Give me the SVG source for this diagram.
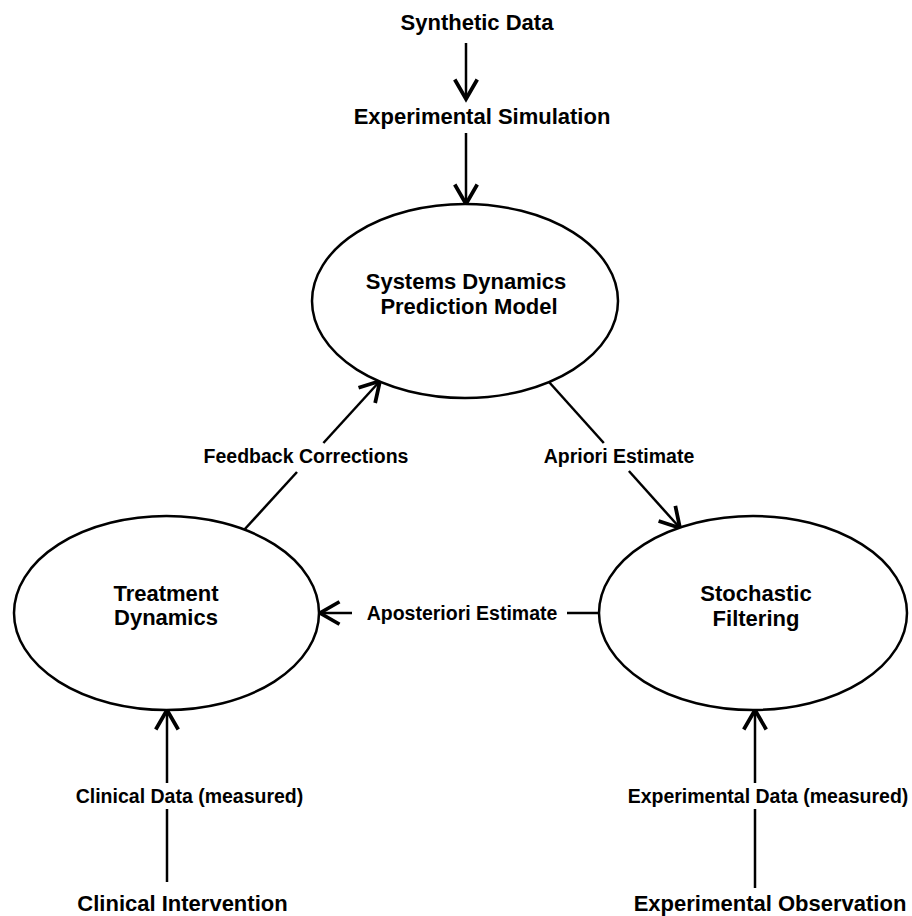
<svg xmlns="http://www.w3.org/2000/svg" width="912" height="916" viewBox="0 0 912 916">
<style>
.t{font-family:"Liberation Sans",Arial,sans-serif;font-weight:bold;fill:#000;text-anchor:middle}
.big{font-size:22px}
.lbl{font-size:19.5px}
.node{fill:#fff;stroke:#000;stroke-width:2.5}
.edge{stroke:#000;stroke-width:2.5;fill:none}
</style>
<defs>
<marker id="arr" markerUnits="userSpaceOnUse" markerWidth="30" markerHeight="30" refX="0" refY="0" viewBox="-16 -10 20 20" orient="auto" overflow="visible">
<path d="M-13,-7.5 L0,0 L-13,7.5" fill="none" stroke="#000" stroke-width="2.5"/>
</marker>
</defs>
<rect width="912" height="916" fill="#fff"/>
<g id="connectors">
<line class="edge" x1="466" y1="43" x2="466" y2="99" marker-end="url(#arr)"/>
<line class="edge" x1="466" y1="133" x2="466" y2="204" marker-end="url(#arr)"/>
<line class="edge" x1="244" y1="530" x2="297" y2="472"/>
<line class="edge" x1="323.4" y1="443" x2="380" y2="381" marker-end="url(#arr)"/>
<line class="edge" x1="549" y1="382" x2="603.8" y2="443"/>
<line class="edge" x1="628.9" y1="471" x2="680" y2="528" marker-end="url(#arr)"/>
<line class="edge" x1="600" y1="613" x2="567" y2="613"/>
<line class="edge" x1="352" y1="613" x2="320" y2="613" marker-end="url(#arr)"/>
<line class="edge" x1="167" y1="882" x2="167" y2="809"/>
<line class="edge" x1="167" y1="783" x2="167" y2="710" marker-end="url(#arr)"/>
<line class="edge" x1="755" y1="888" x2="755" y2="809"/>
<line class="edge" x1="755" y1="783" x2="755" y2="710" marker-end="url(#arr)"/>
<text class="t lbl" x="306" y="463">Feedback Corrections</text>
<text class="t lbl" x="619" y="463">Apriori Estimate</text>
<text class="t lbl" x="462" y="620">Aposteriori Estimate</text>
<text class="t lbl" x="189.5" y="803">Clinical Data (measured)</text>
<text class="t lbl" x="768" y="803">Experimental Data (measured)</text>
</g>
<g id="synthetic-data"><text class="t big" x="477" y="30">Synthetic Data</text></g>
<g id="experimental-simulation"><text class="t big" x="482" y="124">Experimental Simulation</text></g>
<g id="prediction-model">
<ellipse class="node" cx="465" cy="301" rx="153" ry="97"/>
<text class="t big" x="466" y="289">Systems Dynamics</text>
<text class="t big" x="469" y="314">Prediction Model</text>
</g>
<g id="treatment-dynamics">
<ellipse class="node" cx="166.5" cy="613" rx="152.5" ry="97"/>
<text class="t big" x="166" y="601">Treatment</text>
<text class="t big" x="166" y="625">Dynamics</text>
</g>
<g id="stochastic-filtering">
<ellipse class="node" cx="753" cy="613" rx="154" ry="97"/>
<text class="t big" x="756" y="601">Stochastic</text>
<text class="t big" x="756" y="626">Filtering</text>
</g>
<g id="clinical-intervention"><text class="t big" x="182.5" y="911">Clinical Intervention</text></g>
<g id="experimental-observation"><text class="t big" x="770" y="911">Experimental Observation</text></g>
</svg>
